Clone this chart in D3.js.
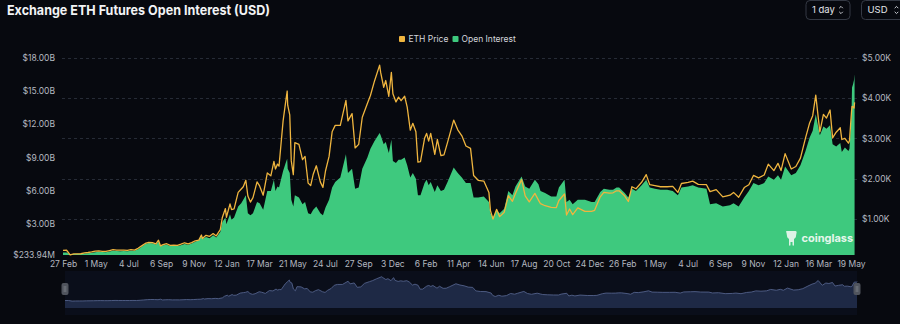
<!DOCTYPE html>
<html><head><meta charset="utf-8">
<script src="https://cdn.jsdelivr.net/npm/d3@7"></script>
<style>html,body{margin:0;padding:0;background:#07090f;overflow:hidden}</style>
</head><body><svg id="c" width="900" height="324"></svg>
<script>
// ---- data ----
const dates = [
"2020-02-27","2020-03-05","2020-03-12","2020-03-19","2020-03-26","2020-04-02","2020-04-09","2020-04-16","2020-04-23","2020-04-30",
"2020-05-07","2020-05-14","2020-05-21","2020-05-28","2020-06-04","2020-06-11","2020-06-18","2020-06-25","2020-07-02","2020-07-09",
"2020-07-16","2020-07-23","2020-07-30","2020-08-06","2020-08-13","2020-08-20","2020-08-27","2020-09-01","2020-09-05","2020-09-10",
"2020-09-17","2020-09-24","2020-10-01","2020-10-08","2020-10-15","2020-10-22","2020-10-29","2020-11-05","2020-11-12","2020-11-19",
"2020-11-24","2020-11-26","2020-12-03","2020-12-10","2020-12-17","2020-12-23","2020-12-31",
"2021-01-04","2021-01-10","2021-01-12","2021-01-19","2021-01-22","2021-01-27","2021-02-04","2021-02-10","2021-02-14","2021-02-19",
"2021-02-23","2021-02-28","2021-03-05","2021-03-13","2021-03-18","2021-03-25","2021-04-02","2021-04-09","2021-04-15","2021-04-18",
"2021-04-22","2021-04-25","2021-05-03","2021-05-08","2021-05-11","2021-05-12","2021-05-16","2021-05-19","2021-05-23","2021-05-26",
"2021-06-03","2021-06-10","2021-06-15","2021-06-21","2021-06-26","2021-07-01","2021-07-07","2021-07-15","2021-07-20","2021-07-25",
"2021-08-01","2021-08-07","2021-08-13","2021-08-23","2021-09-03","2021-09-07","2021-09-15","2021-09-21","2021-09-28","2021-10-05",
"2021-10-15","2021-10-21","2021-10-29","2021-11-08","2021-11-10","2021-11-16","2021-11-20","2021-11-26","2021-12-01","2021-12-04",
"2021-12-10","2021-12-15","2021-12-20","2021-12-27",
"2022-01-01","2022-01-07","2022-01-12","2022-01-18","2022-01-22","2022-01-27","2022-02-04","2022-02-08","2022-02-12","2022-02-16",
"2022-02-24","2022-03-01","2022-03-08","2022-03-14","2022-03-21","2022-04-02","2022-04-10","2022-04-18","2022-04-26","2022-05-05",
"2022-05-11","2022-05-20","2022-05-31","2022-06-10","2022-06-13","2022-06-18","2022-06-25","2022-07-01","2022-07-10","2022-07-18",
"2022-07-26","2022-08-01","2022-08-13","2022-08-20","2022-08-28","2022-09-08","2022-09-15","2022-09-19","2022-09-28","2022-10-10",
"2022-10-20","2022-10-25","2022-11-05","2022-11-09","2022-11-15","2022-11-21","2022-12-01","2022-12-15","2022-12-28",
"2023-01-03","2023-01-14","2023-01-21","2023-02-01","2023-02-08","2023-02-15","2023-02-20","2023-03-03","2023-03-10","2023-03-17",
"2023-03-25","2023-04-05","2023-04-14","2023-04-21","2023-05-01","2023-05-12","2023-05-25","2023-06-05","2023-06-15","2023-06-22",
"2023-07-05","2023-07-14","2023-07-25","2023-08-10","2023-08-17","2023-08-29","2023-09-11","2023-09-25","2023-10-02","2023-10-12",
"2023-10-23","2023-11-01","2023-11-10","2023-11-20","2023-12-01","2023-12-09","2023-12-20","2023-12-28",
"2024-01-03","2024-01-11","2024-01-23","2024-02-01","2024-02-10","2024-02-20","2024-02-28","2024-03-05","2024-03-11","2024-03-19",
"2024-03-26","2024-04-01","2024-04-08","2024-04-13","2024-04-20","2024-04-28","2024-05-01","2024-05-07","2024-05-14","2024-05-16",
"2024-05-20","2024-05-21","2024-05-23","2024-05-25","2024-05-26"
];
const ethPrice = [
227,228,111,136,139,141,165,172,185,206,
212,202,199,220,243,231,230,232,226,241,
232,275,335,395,425,415,383,477,335,368,
389,349,353,350,377,413,387,415,462,479,
605,518,598,573,640,583,737,
1040,1260,1045,1376,1233,1250,1660,1745,1800,1960,
1570,1420,1530,1920,1820,1590,2140,2070,2430,2240,
2360,2310,3430,3900,4170,3820,3580,2440,2100,2890,
2850,2470,2550,1890,1830,2110,2320,1915,1785,2190,
2550,3160,3320,3320,3940,3430,3610,2760,2850,3520,
3860,4060,4420,4810,4630,4260,4430,4040,4630,4100,
3900,4020,3930,4040,
3770,3200,3370,3160,2410,2420,3000,3120,2930,3120,
2600,2970,2570,2590,2900,3450,3210,3060,2810,2750,
2080,1960,1940,1660,1210,1000,1240,1060,1170,1580,
1440,1630,1980,1575,1425,1635,1470,1380,1330,1290,
1285,1460,1620,1100,1250,1110,1275,1190,1190,
1215,1550,1660,1640,1650,1700,1700,1570,1435,1800,
1750,1910,2100,1850,1830,1800,1800,1810,1660,1880,
1910,1940,1860,1850,1680,1730,1550,1590,1660,1540,
1780,1850,2080,2020,2090,2360,2200,2380,
2200,2620,2240,2300,2510,3010,3380,3560,4070,3160,
3590,3500,3700,3010,3150,3260,2970,3000,2880,2940,
3660,3790,3780,3750,3890
];
// open interest, billions of USD
const openInterest = [
0.45,0.46,0.30,0.33,0.34,0.35,0.38,0.40,0.43,0.48,
0.52,0.50,0.49,0.54,0.62,0.60,0.58,0.59,0.58,0.62,
0.61,0.75,0.98,1.22,1.32,1.28,1.18,1.42,1.05,1.10,
1.15,1.05,1.06,1.05,1.12,1.22,1.16,1.26,1.42,1.55,
1.95,1.70,1.85,1.75,2.00,1.80,2.30,
3.2,3.6,3.0,3.9,3.4,3.6,4.6,4.9,5.2,5.6,
4.0,3.8,4.0,5.0,4.9,4.3,6.0,6.0,7.0,6.0,
6.4,6.3,7.8,8.5,8.9,8.0,7.6,5.2,4.6,5.6,
5.4,4.8,5.0,4.0,3.9,4.3,4.6,4.0,3.8,4.5,
5.2,6.3,6.8,7.2,9.3,7.6,8.0,6.2,6.3,8.0,
9.0,9.8,10.5,11.2,11.0,10.2,10.4,9.4,10.6,8.7,
8.5,8.8,8.8,9.0,
8.3,7.2,7.6,7.1,5.6,5.6,6.7,7.0,6.5,6.8,
5.9,6.5,6.0,6.1,6.8,8.1,7.6,7.2,6.7,6.7,
5.4,5.4,5.5,5.0,4.0,3.6,4.3,4.0,4.4,6.0,
5.6,6.4,7.3,6.4,6.2,7.0,6.6,6.0,5.8,5.5,
5.5,6.3,7.0,5.0,5.2,4.8,5.2,5.2,5.0,
5.0,5.9,6.2,6.1,6.1,6.3,6.3,5.8,5.4,6.2,
6.0,6.5,7.0,6.3,6.2,6.1,6.1,6.0,5.6,6.3,
6.4,6.5,6.3,6.2,4.8,4.9,4.6,4.7,4.9,4.6,
5.4,6.0,6.7,6.5,6.7,7.3,7.0,7.4,
7.0,8.2,7.4,7.6,8.3,9.6,10.8,11.4,12.9,11.0,
11.8,11.6,11.9,10.2,10.0,10.3,9.5,9.9,9.6,9.8,
13.0,15.3,15.6,16.0,16.5
];
const xTickDates = ["2020-02-27","2020-05-01","2020-07-04","2020-09-06","2020-11-09","2021-01-12","2021-03-17","2021-05-21",
"2021-07-24","2021-09-27","2021-12-03","2022-02-06","2022-04-11","2022-06-14","2022-08-17","2022-10-20","2022-12-24",
"2023-02-26","2023-05-01","2023-07-04","2023-09-06","2023-11-09","2024-01-12","2024-03-16","2024-05-19"];
const xTickLabels = ["27 Feb","1 May","4 Jul","6 Sep","9 Nov","12 Jan","17 Mar","21 May","24 Jul","27 Sep","3 Dec","6 Feb",
"11 Apr","14 Jun","17 Aug","20 Oct","24 Dec","26 Feb","1 May","4 Jul","6 Sep","9 Nov","12 Jan","16 Mar","19 May"];
const leftTicks = [0.23394, 3, 6, 9, 12, 15, 18];
const leftTickLabels = ["$233.94M","$3.00B","$6.00B","$9.00B","$12.00B","$15.00B","$18.00B"];
const rightTicks = [1000, 2000, 3000, 4000, 5000];
const rightTickLabels = ["$1.00K","$2.00K","$3.00K","$4.00K","$5.00K"];
const seriesNames = ["ETH Price","Open Interest"];

// ---- drawing ----
const parse = d3.timeParse("%Y-%m-%d");
const data = dates.map((d,i)=>({date: parse(d), price: ethPrice[i], oi: openInterest[i]}));
const svg = d3.select("#c");
const FONT = "Inter, 'Noto Sans', sans-serif";
const GREEN = "#3ec97e", ORANGE = "#efb53f";

svg.append("rect").attr("width",900).attr("height",324).attr("fill","#07090f");

const x = d3.scaleTime().domain([parse("2020-02-27"), parse("2024-05-19")]).range([63, 851]);
const yL = d3.scaleLinear().domain([0.23394, 18]).range([255, 57.5]);
const yR = d3.scaleLinear().domain([110, 5000]).range([255, 57.5]);

// title
svg.append("text").attr("x",7).attr("y",14.5).attr("fill","#f2f3f5")
  .attr("font-family",FONT).attr("font-weight",700).attr("font-size",13.5)
  .attr("textLength",263).attr("lengthAdjust","spacingAndGlyphs")
  .text("Exchange ETH Futures Open Interest (USD)");

// buttons
function button(x0, w, label){
  const g = svg.append("g");
  g.append("rect").attr("x",x0).attr("y",0.5).attr("width",w).attr("height",19).attr("rx",4)
    .attr("fill","none").attr("stroke","#343944");
  g.append("text").attr("x",x0+6).attr("y",13).attr("fill","#e4e6ea").attr("font-family",FONT)
    .attr("font-size",9.5).text(label);
  const cx = x0 + w - 9;
  g.append("path").attr("d",`M${cx-1.8},${8.2} L${cx},${6.4} L${cx+1.8},${8.2} M${cx-1.8},${11.8} L${cx},${13.6} L${cx+1.8},${11.8}`)
    .attr("fill","none").attr("stroke","#c9ccd2").attr("stroke-width",1);
}
button(806, 44, "1 day");
button(861.5, 44, "USD");

// legend
const legend = svg.append("g").attr("font-family",FONT).attr("font-size",8.5).attr("fill","#d3d6dc");
legend.append("rect").attr("x",399).attr("y",36).attr("width",6).attr("height",6).attr("rx",1).attr("fill",ORANGE);
legend.append("text").attr("x",408.5).attr("y",42).text(seriesNames[0]);
legend.append("rect").attr("x",452.5).attr("y",36).attr("width",6).attr("height",6).attr("rx",1).attr("fill",GREEN);
legend.append("text").attr("x",461.5).attr("y",42).text(seriesNames[1]);

// grid lines (aligned to right axis)
svg.append("g").selectAll("line").data(rightTicks).join("line")
  .attr("x1",62).attr("x2",857).attr("y1",d=>Math.round(yR(d))+0.5).attr("y2",d=>Math.round(yR(d))+0.5)
  .attr("stroke","#262b36").attr("stroke-dasharray","3,3");

// open interest area
svg.append("path").datum(data)
  .attr("d", d3.area().x(d=>x(d.date)).y0(255).y1(d=>yL(d.oi)))
  .attr("fill", GREEN);

// price line
svg.append("path").datum(data)
  .attr("d", d3.line().x(d=>x(d.date)).y(d=>yR(d.price)))
  .attr("fill","none").attr("stroke",ORANGE).attr("stroke-width",1.3).attr("stroke-linejoin","round");

// axes
function styleAxis(g, size){
  g.select(".domain").remove();
  g.selectAll("text").attr("font-family",FONT).attr("font-size",size).attr("fill","#b4b8c0");
}
svg.append("g").attr("transform","translate(55,0)")
  .call(d3.axisLeft(yL).tickValues(leftTicks).tickFormat((d,i)=>leftTickLabels[i]).tickSize(0).tickPadding(0))
  .call(g=>styleAxis(g,8.5));
svg.append("g").attr("transform","translate(862,0)")
  .call(d3.axisRight(yR).tickValues(rightTicks).tickFormat((d,i)=>rightTickLabels[i]).tickSize(0).tickPadding(0))
  .call(g=>styleAxis(g,8.5));
svg.append("g").attr("transform","translate(0,261)")
  .call(d3.axisBottom(x).tickValues(xTickDates.map(parse)).tickFormat((d,i)=>xTickLabels[i]).tickSize(0).tickPadding(0))
  .call(g=>styleAxis(g,8.5));

// watermark
const wm = svg.append("g").attr("opacity",0.92);
wm.append("path").attr("transform","translate(785.5,231)")
  .attr("d","M1,0 H10 C11,0 11.5,1 11,2 L10.5,5 C10.5,6.5 9.5,7.5 8.5,7.8 V14 C8.5,15 7,15 7,14 V11 H5 V14 C5,15 3.5,15 3.5,14 V7.8 C2.5,7.5 1.5,6.5 1.5,5 L1,2 C0.5,1 0.5,0 1,0 Z")
  .attr("fill","#eaf7ef");
wm.append("text").attr("x",801.5).attr("y",242).attr("fill","#f4fbf6").attr("font-family",FONT)
  .attr("font-weight",700).attr("font-size",11).text("coinglass");

// navigator
const nx = d3.scaleTime().domain(d3.extent(data,d=>d.date)).range([65, 857]);
const ny = d3.scaleLinear().domain([0, 4810]).range([301.7, 276.7]);
svg.append("rect").attr("x",65).attr("y",271).attr("width",792).attr("height",44).attr("fill","#0a0e1a");
svg.append("path").datum(data)
  .attr("d", d3.area().x(d=>nx(d.date)).y0(308).y1(d=>ny(d.price)))
  .attr("fill","#1e2945");
svg.append("path").datum(data)
  .attr("d", d3.line().x(d=>nx(d.date)).y(d=>ny(d.price)))
  .attr("fill","none").attr("stroke","#52618a").attr("stroke-width",0.9);
[65, 857].forEach(hx=>{
  svg.append("rect").attr("x",hx-3.5).attr("y",283).attr("width",7).attr("height",12).attr("rx",2).attr("fill","#50545d");
  svg.append("line").attr("x1",hx-0.8).attr("x2",hx-0.8).attr("y1",286).attr("y2",292).attr("stroke","#8a8e96").attr("stroke-width",0.6);
  svg.append("line").attr("x1",hx+0.8).attr("x2",hx+0.8).attr("y1",286).attr("y2",292).attr("stroke","#8a8e96").attr("stroke-width",0.6);
});
</script>
</body></html>
